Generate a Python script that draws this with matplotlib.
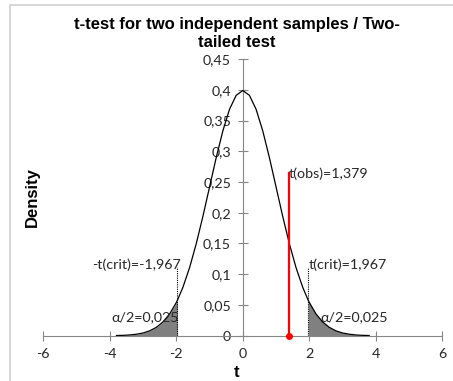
import numpy as np
import matplotlib.pyplot as plt
from matplotlib.patches import Rectangle

# density curve (t distribution, ~normal)
t_vals = [-3.8, -3.6, -3.4, -3.2, -3.0, -2.8, -2.6, -2.4, -2.2, -2.0, -1.967,
          -1.8, -1.6, -1.4, -1.2, -1.0, -0.8, -0.6, -0.4, -0.2, 0.0,
          0.2, 0.4, 0.6, 0.8, 1.0, 1.2, 1.4, 1.6, 1.8, 1.967, 2.0,
          2.2, 2.4, 2.6, 2.8, 3.0, 3.2, 3.4, 3.6, 3.8]
density = [0.0003, 0.0006, 0.0012, 0.0024, 0.0044, 0.0079, 0.0136, 0.0224, 0.0355, 0.0540, 0.0576,
           0.0790, 0.1109, 0.1497, 0.1942, 0.2420, 0.2897, 0.3332, 0.3683, 0.3910, 0.3989,
           0.3910, 0.3683, 0.3332, 0.2897, 0.2420, 0.1942, 0.1497, 0.1109, 0.0790, 0.0576, 0.0540,
           0.0355, 0.0224, 0.0136, 0.0079, 0.0044, 0.0024, 0.0012, 0.0006, 0.0003]

t_crit = 1.967
t_obs = 1.379
obs_height = 0.264
crit_height = 0.112
alpha_half = '0,025'

x_ticks = [-6, -4, -2, 0, 2, 4, 6]
y_ticks = [0, 0.05, 0.1, 0.15, 0.2, 0.25, 0.3, 0.35, 0.4, 0.45]

lab_font = ['Lato', 'DejaVu Sans']
txt_col = '#262626'
fs = 10.3

fig = plt.figure(figsize=(4.53, 3.81), dpi=100)
fig.patches.append(Rectangle((10 / 453, -0.1), 450 / 453, 1 - 5 / 381 + 0.1,
                             transform=fig.transFigure, fill=False,
                             edgecolor='#d0d0d0', lw=1.2))
ax = fig.add_axes([0.0956, 0.1189, 0.8808, 0.726])

x = np.array(t_vals)
y = np.array(density)
ax.fill_between(x, y, where=x <= -t_crit, color='#808080', lw=0)
ax.fill_between(x, y, where=x >= t_crit, color='#808080', lw=0)
ax.plot(x, y, color='black', lw=0.9, zorder=3)

# critical values
for xc in (-t_crit, t_crit):
    ax.plot([xc, xc], [0, crit_height], color='black', ls=(0, (1, 1)), lw=0.8)
ax.text(-1.85, 0.115, '-t(crit)=-1,967', ha='right', va='center',
        fontsize=fs, family=lab_font, color=txt_col)
ax.text(t_crit, 0.115, 't(crit)=1,967', ha='left', va='center',
        fontsize=fs, family=lab_font, color=txt_col)
ax.text(-1.93, 0.030, 'α/2=' + alpha_half, ha='right', va='center',
        fontsize=fs, family=lab_font, color=txt_col)
ax.text(2.33, 0.030, 'α/2=' + alpha_half, ha='left', va='center',
        fontsize=fs, family=lab_font, color=txt_col)

# observed value
ax.plot([t_obs, t_obs], [0, obs_height], color='red', lw=1.6, zorder=4)
ax.plot([t_obs], [0], 'o', color='red', ms=4, zorder=5, clip_on=False)
ax.text(t_obs, obs_height, 't(obs)=1,379', ha='left', va='center',
        fontsize=fs, family=lab_font, color=txt_col)

ax.set_xlim(-6, 6)
ax.set_ylim(0, 0.45)
ax.spines['left'].set_position(('data', 0))
ax.spines['bottom'].set_position(('data', 0))
ax.spines['top'].set_visible(False)
ax.spines['right'].set_visible(False)
for s in ('left', 'bottom'):
    ax.spines[s].set_color('#868686')
    ax.spines[s].set_linewidth(0.8)

ax.set_xticks(x_ticks)
ax.set_xticklabels([str(v) for v in x_ticks])
ax.set_yticks(y_ticks)
ax.set_yticklabels([('%g' % v).replace('.', ',') for v in y_ticks])
ax.tick_params(direction='inout', length=7, width=0.8, color='#868686',
               labelsize=fs, labelcolor=txt_col, pad=5)
for lab in ax.get_xticklabels() + ax.get_yticklabels():
    lab.set_family(lab_font)
ax.patch.set_visible(False)

fig.text(0.523, 0.021, 't', ha='center', va='center', fontsize=12,
         fontweight='bold', family='Liberation Sans')
fig.text(0.071, 0.482, 'Density', ha='center', va='center', rotation=90,
         fontsize=12, fontweight='bold', family='Liberation Sans')
fig.text(0.523, 0.912, 't-test for two independent samples / Two-\ntailed test',
         ha='center', va='center', fontsize=12, fontweight='bold',
         family='Liberation Sans', linespacing=1.2)

fig.savefig('out.png', dpi=100)
